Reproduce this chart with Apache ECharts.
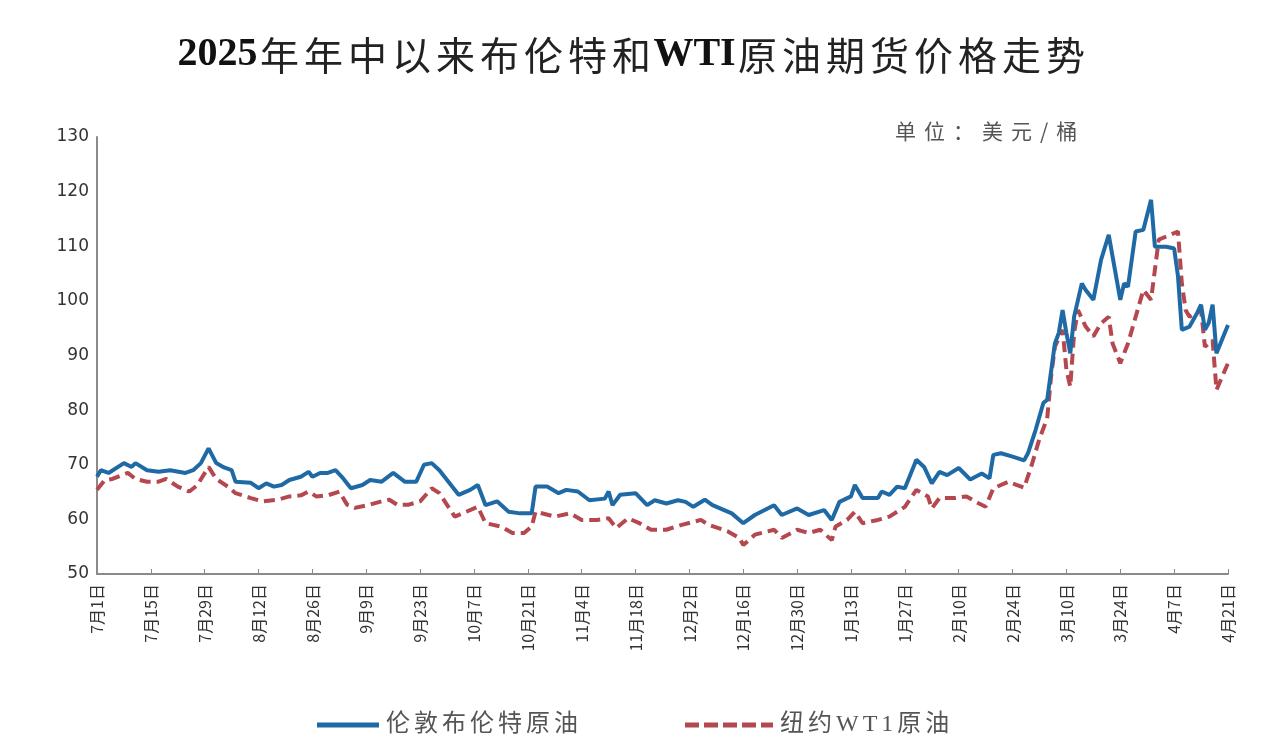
<!DOCTYPE html>
<html>
<head>
<meta charset="utf-8">
<script src="https://cdn.jsdelivr.net/npm/echarts@6/dist/echarts.min.js"></script>
<style>
  html, body { margin: 0; padding: 0; background: #fff; }
  #chart { width: 1265px; height: 752px; }
</style>
</head>
<body>
<div id="chart"></div>
<script>
// 伦敦布伦特原油
const brentDates = ['7-1', '7-2', '7-4', '7-8', '7-10', '7-11', '7-14', '7-17', '7-20', '7-24', '7-26', '7-28', '7-30',
  '8-1', '8-3', '8-5', '8-6', '8-10', '8-12', '8-14', '8-16', '8-18', '8-20', '8-23', '8-25', '8-26', '8-28', '8-30',
  '9-1', '9-3', '9-5', '9-8', '9-10', '9-13', '9-16', '9-19', '9-22', '9-24', '9-26', '9-28',
  '10-3', '10-6', '10-8', '10-10', '10-13', '10-16', '10-19', '10-22', '10-23', '10-26', '10-29', '10-31',
  '11-3', '11-6', '11-10', '11-11', '11-12', '11-14', '11-18', '11-21', '11-23', '11-26', '11-29',
  '12-1', '12-3', '12-6', '12-8', '12-13', '12-16', '12-19', '12-24', '12-26', '12-30',
  '1-2', '1-6', '1-8', '1-10', '1-13', '1-14', '1-16', '1-20', '1-21', '1-23', '1-25', '1-27', '1-30',
  '2-1', '2-3', '2-5', '2-7', '2-10', '2-13', '2-16', '2-18', '2-19', '2-21', '2-24', '2-27', '2-28',
  '3-2', '3-4', '3-5', '3-7', '3-8', '3-9', '3-10', '3-11', '3-12', '3-14', '3-15', '3-17', '3-19', '3-21', '3-22',
  '3-24', '3-25', '3-26', '3-28', '3-30',
  '4-1', '4-2', '4-5', '4-7', '4-8', '4-9', '4-11', '4-13', '4-14', '4-15', '4-16', '4-17', '4-18', '4-21']
const brentPrices = [67.8, 69.0, 68.5, 70.3, 69.6, 70.3, 69.0, 68.7, 69.0, 68.5, 69.0, 70.3, 73.0,
  70.3, 69.5, 69.0, 66.9, 66.7, 65.7, 66.6, 66.0, 66.3, 67.2, 67.8, 68.7, 67.8, 68.5, 68.5,
  69.0, 67.5, 65.7, 66.3, 67.2, 66.9, 68.5, 66.9, 66.9, 70.0, 70.3, 69.0,
  64.5, 65.4, 66.3, 62.6, 63.3, 61.4, 61.1, 61.1, 66.0, 66.0, 64.8, 65.4,
  65.1, 63.5, 63.8, 65.1, 62.6, 64.5, 64.8, 62.6, 63.5, 62.9, 63.5,
  63.2, 62.3, 63.6, 62.6, 61.1, 59.3, 60.8, 62.6, 60.8, 62.0,
  60.8, 61.7, 59.9, 63.2, 64.2, 66.3, 63.9, 63.9, 65.1, 64.5, 66.0, 65.7, 70.9,
  69.6, 66.6, 68.7, 68.1, 69.4, 67.3, 68.4, 67.5, 71.8, 72.1, 71.5, 70.8, 72.1,
  76.4, 81.3, 81.9, 92.2, 94.1, 98.3, 94.1, 90.4, 97.1, 103.2, 102.0, 100.2, 107.5, 112.1, 108.1,
  100.2, 103.2, 102.6, 112.7, 113.0,
  118.5, 109.9, 109.9, 109.6, 104.5, 94.7, 95.3, 97.8, 99.3, 94.7, 96.0, 99.3, 90.4, 95.6]

// 纽约WT1原油
const wtiDates = ['7-1', '7-3', '7-5', '7-9', '7-11', '7-14', '7-17', '7-19', '7-22', '7-25', '7-27', '7-30',
  '8-1', '8-4', '8-6', '8-10', '8-13', '8-17', '8-20', '8-23', '8-25', '8-27', '8-30',
  '9-2', '9-4', '9-6', '9-10', '9-13', '9-15', '9-17', '9-20', '9-23', '9-26', '9-28',
  '10-2', '10-5', '10-8', '10-10', '10-14', '10-17', '10-20', '10-22', '10-23', '10-28',
  '11-1', '11-4', '11-8', '11-11', '11-13', '11-16', '11-19', '11-22', '11-26', '11-30',
  '12-5', '12-7', '12-12', '12-15', '12-16', '12-19', '12-24', '12-26', '12-30',
  '1-2', '1-5', '1-8', '1-9', '1-12', '1-14', '1-16', '1-20', '1-23', '1-27', '1-30',
  '2-2', '2-3', '2-5', '2-9', '2-12', '2-15', '2-17', '2-19', '2-23', '2-25', '2-27',
  '3-1', '3-3', '3-5', '3-6', '3-7', '3-9', '3-10', '3-11', '3-12', '3-13', '3-15', '3-17', '3-19', '3-21', '3-22',
  '3-24', '3-26', '3-28', '3-30',
  '4-1', '4-3', '4-5', '4-8', '4-9', '4-10', '4-11', '4-14', '4-15', '4-17', '4-18', '4-21']
const wtiPrices = [65.4, 67.2, 67.4, 68.5, 67.4, 66.9, 66.9, 67.4, 66.0, 65.1, 66.2, 69.6,
  67.4, 66.0, 64.8, 63.9, 63.3, 63.6, 64.2, 64.4, 65.1, 64.2, 64.4,
  65.1, 62.7, 62.1, 62.7, 63.3, 63.6, 62.7, 62.7, 63.3, 65.7, 64.8,
  60.5, 61.4, 62.3, 59.3, 58.7, 57.5, 57.5, 58.7, 61.4, 60.5,
  61.1, 59.9, 59.9, 60.2, 58.4, 60.2, 59.3, 58.1, 58.1, 59.0,
  59.9, 59.0, 57.8, 56.6, 55.3, 57.2, 58.1, 56.6, 58.1,
  57.5, 58.1, 56.2, 58.7, 59.9, 61.4, 59.3, 59.9, 60.5, 62.3, 65.4,
  64.2, 62.0, 63.9, 63.9, 64.2, 63.0, 62.3, 65.7, 66.9, 66.3, 65.8,
  70.0, 74.8, 78.5, 86.1, 91.6, 94.7, 87.4, 84.3, 94.1, 98.3, 95.3, 93.5, 95.9, 97.1, 92.2,
  88.6, 92.2, 97.1, 102.0,
  100.2, 111.2, 111.8, 112.7, 103.2, 98.3, 97.1, 98.3, 91.6, 92.8, 83.7, 88.6]

const yTicks = [50, 60, 70, 80, 90, 100, 110, 120, 130]

// every calendar day 2025-07-01 .. 2026-04-21
const dayKeys = []
const dayLabels = []
for (let t = new Date(2025, 6, 1); t <= new Date(2026, 3, 21); t.setDate(t.getDate() + 1)) {
  dayKeys.push((t.getMonth() + 1) + '-' + t.getDate())
  dayLabels.push((t.getMonth() + 1) + '月' + t.getDate() + '日')
}

const toSeries = (dates, prices) => dates.map((d, i) => [dayKeys.indexOf(d), prices[i]])

const BLUE = '#1f6aa5'
const RED = '#b5474f'
const serif = '"Liberation Serif", "Noto Sans CJK SC"'
const cjk = '"Noto Sans CJK SC"'

// spread characters a little, like the original's wide typesetting
const spaced = (s, key) => s.split('').map(c => `{${key}|${c}}`).join('')

const legendText = {
  fontFamily: serif,
  fontSize: 24,
  color: '#555',
  rich: {
    s: { fontFamily: serif, fontSize: 24, color: '#555', padding: [0, 2] },
  },
}

const chart = echarts.init(document.getElementById('chart'))

chart.setOption({
  animation: false,
  backgroundColor: '#fff',
  title: {
    text: '{b|2025}' + spaced('年年中以来布伦特和', 'c') + '{b|WTI}' + spaced('原油期货价格走势', 'c'),
    left: 'center',
    top: 30,
    textStyle: {
      rich: {
        b: { fontFamily: '"Liberation Serif"', fontSize: 40, fontWeight: 'bold', color: '#111' },
        c: { fontFamily: cjk, fontSize: 39, fontWeight: 'normal', color: '#222', padding: [0, 2.5] },
      },
    },
  },
  graphic: [{
    type: 'text',
    left: 895,
    top: 121,
    style: {
      text: spaced('单位：美元/桶', 'u'),
      rich: {
        u: { fontFamily: cjk, fontSize: 21, fill: '#555', padding: [0, 4] },
      },
    },
  }],
  legend: [
    {
      left: 312,
      top: 708,
      itemWidth: 62,
      itemHeight: 5,
      itemGap: 0,
      itemStyle: { borderWidth: 0 },
      textStyle: legendText,
      formatter: name => spaced(name, 's'),
      data: [{ name: '伦敦布伦特原油', icon: 'path://M0,0H62V5H0Z' }],
    },
    {
      left: 680,
      top: 708,
      itemWidth: 88,
      itemHeight: 5,
      itemGap: 0,
      itemStyle: { borderWidth: 0 },
      textStyle: legendText,
      formatter: name => spaced(name, 's'),
      data: [{ name: '纽约WT1原油', icon: 'path://M0,0H14V5H0Z M19,0H33V5H19Z M38,0H52V5H38Z M57,0H71V5H57Z M76,0H88V5H76Z' }],
    },
  ],
  grid: {
    left: 97,
    right: 37,
    top: 137,
    bottom: 178,
  },
  xAxis: {
    type: 'category',
    data: dayLabels,
    boundaryGap: false,
    axisLine: { lineStyle: { color: '#8a8a8a', width: 2 } },
    axisTick: { interval: 13, inside: true, length: 5, lineStyle: { color: '#8a8a8a' } },
    axisLabel: {
      interval: 13,
      rotate: 90,
      margin: 10,
      fontFamily: cjk,
      fontSize: 16,
      color: '#333',
    },
  },
  yAxis: {
    type: 'value',
    min: yTicks[0],
    max: yTicks[yTicks.length - 1],
    interval: 10,
    axisLine: { show: true, lineStyle: { color: '#8a8a8a', width: 2 } },
    axisTick: { show: false },
    splitLine: { show: false },
    axisLabel: {
      margin: 8,
      fontFamily: '"DejaVu Sans"',
      fontSize: 17,
      color: '#333',
    },
  },
  series: [
    {
      name: '伦敦布伦特原油',
      type: 'line',
      symbol: 'none',
      data: toSeries(brentDates, brentPrices),
      lineStyle: { color: BLUE, width: 4 },
      itemStyle: { color: BLUE },
      z: 3,
    },
    {
      name: '纽约WT1原油',
      type: 'line',
      symbol: 'none',
      data: toSeries(wtiDates, wtiPrices),
      lineStyle: { color: RED, width: 4, type: [11, 6] },
      itemStyle: { color: RED },
      z: 2,
    },
  ],
})
</script>
</body>
</html>
